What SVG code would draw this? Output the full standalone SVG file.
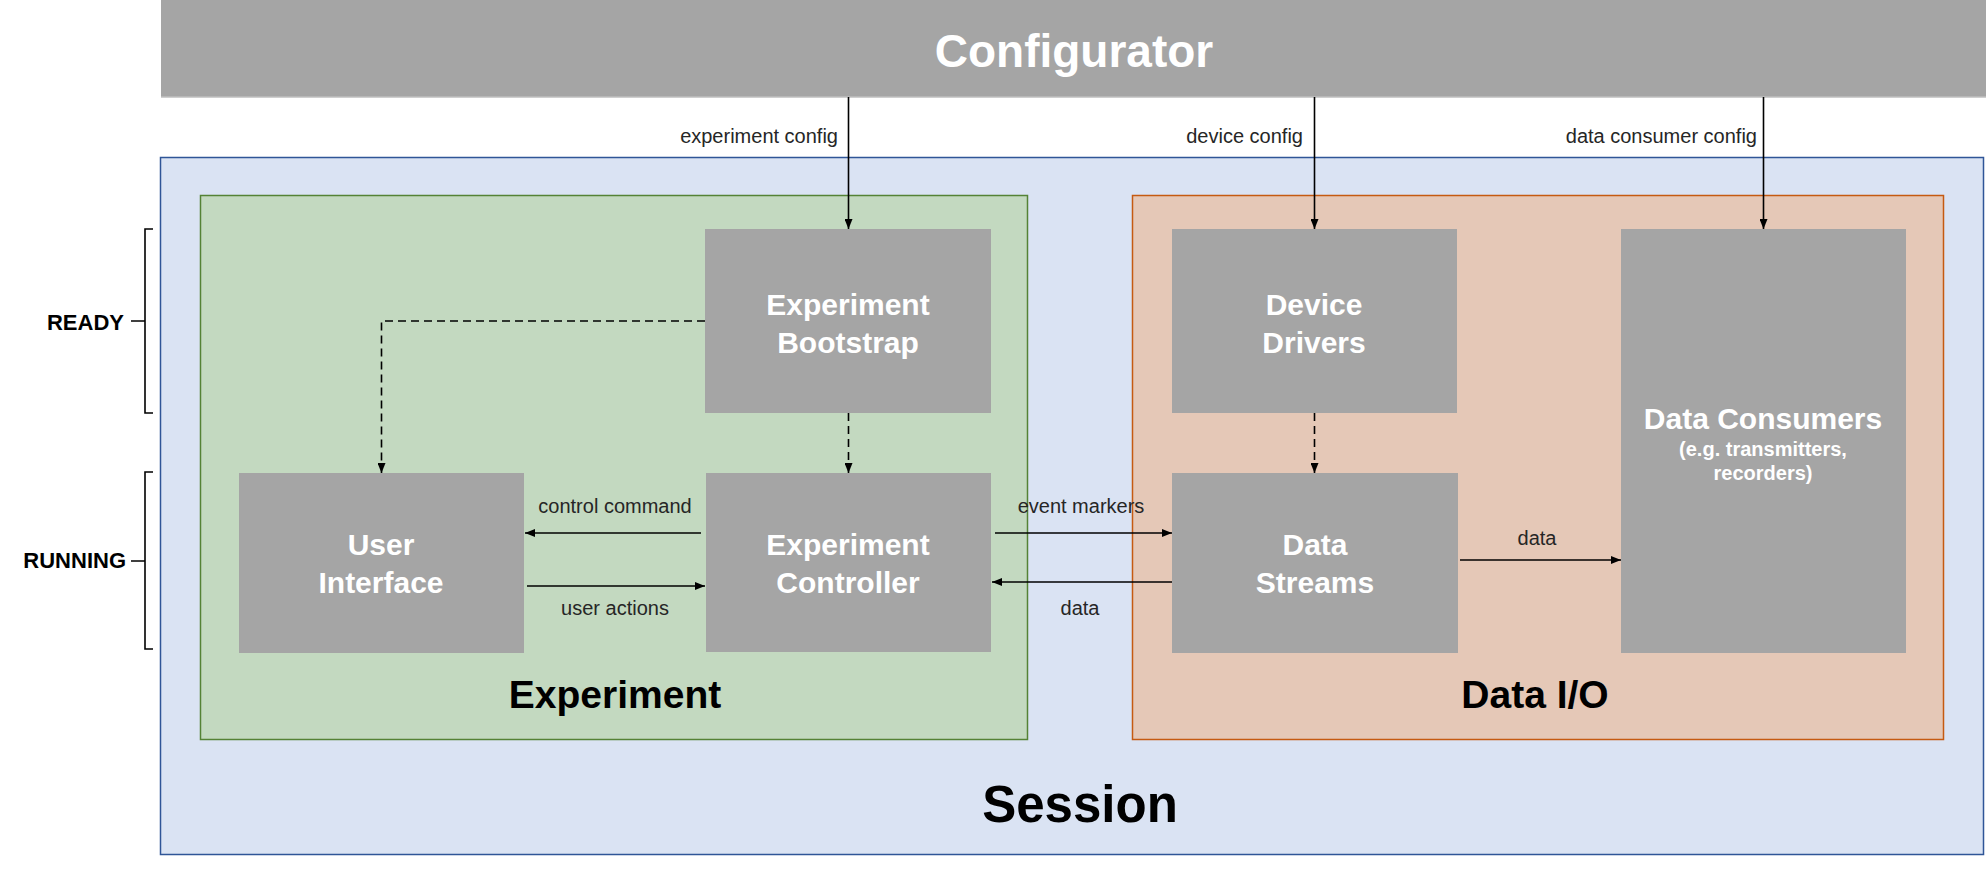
<svg xmlns="http://www.w3.org/2000/svg" width="1986" height="869" viewBox="0 0 1986 869">
<style>
text{font-family:"Liberation Sans",Arial,sans-serif}
.node{fill:#A5A5A5}
.nt{fill:#FFFFFF;font-size:30px;font-weight:bold;text-anchor:middle}
.st{fill:#FFFFFF;font-size:20px;font-weight:bold;text-anchor:middle}
.el{fill:#262626;font-size:20px}
.big{fill:#000000;font-weight:bold;text-anchor:middle}
.ln{stroke:#000000;stroke-width:1.6;fill:none}
.dash{stroke:#000000;stroke-width:1.6;fill:none;stroke-dasharray:8 5}
.brk{stroke:#000000;stroke-width:1.6;fill:none}
.lab{fill:#000000;font-size:22px;font-weight:bold;text-anchor:end}
</style>
<defs>
<marker id="ah" markerWidth="10" markerHeight="8" refX="10" refY="4" orient="auto" markerUnits="userSpaceOnUse">
<path d="M0,0 L10,4 L0,8 z" fill="#000000"/>
</marker>
</defs>
<rect width="1986" height="869" fill="#FFFFFF"/>

<g id="configurator">
<rect x="161" y="0" width="1830" height="97" fill="#A5A5A5"/>
<line x1="161" y1="97" x2="1986" y2="97" stroke="#BFBFBF" stroke-width="1.5"/>
<text x="1074" y="67" fill="#FFFFFF" font-size="46" font-weight="bold" text-anchor="middle">Configurator</text>
</g>

<g id="session">
<rect x="160.5" y="157.5" width="1823" height="697" fill="#DAE3F3" stroke="#2F5597" stroke-width="1.5"/>
<text class="big" x="1080" y="822" font-size="51">Session</text>
</g>

<g id="experiment">
<rect x="200.5" y="195.5" width="827" height="544" fill="#C3D9C0" stroke="#548235" stroke-width="1.5"/>
<text class="big" x="615" y="708" font-size="39">Experiment</text>
</g>

<g id="dataio">
<rect x="1132.5" y="195.5" width="811" height="544" fill="#E5C8B7" stroke="#C55A11" stroke-width="1.5"/>
<text class="big" x="1535" y="708" font-size="39">Data I/O</text>
</g>

<g id="ready-label">
<path class="brk" d="M153,229 L145,229 L145,413 L153,413 M131,321 L145,321"/>
<text class="lab" x="124" y="330">READY</text>
</g>
<g id="running-label">
<path class="brk" d="M153,472 L145,472 L145,649 L153,649 M131,561 L145,561"/>
<text class="lab" x="126" y="568">RUNNING</text>
</g>

<g id="experiment-bootstrap">
<rect class="node" x="705" y="229" width="286" height="184"/>
<text class="nt" x="848" y="315">Experiment</text>
<text class="nt" x="848" y="353">Bootstrap</text>
</g>
<g id="experiment-controller">
<rect class="node" x="706" y="473" width="285" height="179"/>
<text class="nt" x="848" y="555">Experiment</text>
<text class="nt" x="848" y="593">Controller</text>
</g>
<g id="user-interface">
<rect class="node" x="239" y="473" width="285" height="180"/>
<text class="nt" x="381" y="555">User</text>
<text class="nt" x="381" y="593">Interface</text>
</g>
<g id="device-drivers">
<rect class="node" x="1172" y="229" width="285" height="184"/>
<text class="nt" x="1314" y="315">Device</text>
<text class="nt" x="1314" y="353">Drivers</text>
</g>
<g id="data-streams">
<rect class="node" x="1172" y="473" width="286" height="180"/>
<text class="nt" x="1315" y="555">Data</text>
<text class="nt" x="1315" y="593">Streams</text>
</g>
<g id="data-consumers">
<rect class="node" x="1621" y="229" width="285" height="424"/>
<text class="nt" x="1763" y="429">Data Consumers</text>
<text class="st" x="1763" y="456">(e.g. transmitters,</text>
<text class="st" x="1763" y="480">recorders)</text>
</g>

<g id="connectors">
<line class="ln" x1="848.5" y1="97" x2="848.5" y2="229" marker-end="url(#ah)"/>
<text class="el" x="838" y="143" text-anchor="end">experiment config</text>
<line class="ln" x1="1314.5" y1="97" x2="1314.5" y2="229" marker-end="url(#ah)"/>
<text class="el" x="1303" y="143" text-anchor="end">device config</text>
<line class="ln" x1="1763.5" y1="97" x2="1763.5" y2="229" marker-end="url(#ah)"/>
<text class="el" x="1757" y="143" text-anchor="end">data consumer config</text>

<path class="dash" d="M705,321 L381.5,321 L381.5,473" marker-end="url(#ah)"/>
<line class="dash" x1="848.5" y1="413" x2="848.5" y2="473" marker-end="url(#ah)"/>
<line class="dash" x1="1314.5" y1="413" x2="1314.5" y2="473" marker-end="url(#ah)"/>

<line class="ln" x1="701" y1="533" x2="525" y2="533" marker-end="url(#ah)"/>
<text class="el" x="615" y="513" text-anchor="middle">control command</text>
<line class="ln" x1="527" y1="586" x2="705" y2="586" marker-end="url(#ah)"/>
<text class="el" x="615" y="615" text-anchor="middle">user actions</text>

<line class="ln" x1="995" y1="533" x2="1172" y2="533" marker-end="url(#ah)"/>
<text class="el" x="1081" y="513" text-anchor="middle">event markers</text>
<line class="ln" x1="1172" y1="582" x2="992" y2="582" marker-end="url(#ah)"/>
<text class="el" x="1080" y="615" text-anchor="middle">data</text>

<line class="ln" x1="1460" y1="560" x2="1621" y2="560" marker-end="url(#ah)"/>
<text class="el" x="1537" y="545" text-anchor="middle">data</text>
</g>
</svg>
